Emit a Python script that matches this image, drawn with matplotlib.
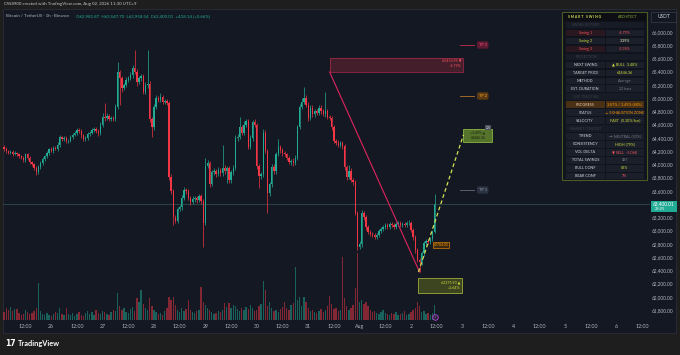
import numpy as np
import matplotlib
matplotlib.use("Agg")
import matplotlib.pyplot as plt
from matplotlib.patches import Rectangle

plt.rcParams['font.family'] = ['Lato', 'DejaVu Sans']

# ---------------- data ----------------
first_hour = 2            # first candle: hours after Jul 25 00:00
first_open = 64270.0
closes = [
    64230, 64200, 64180, 64190, 64160, 64170, 64150, 64120, 64100, 64060,
    64150, 64100, 64030, 64000, 63950, 63880, 63960, 64020, 64080, 64120,
    64170, 64230, 64210, 64250, 64240, 64300, 64410, 64380, 64400, 64350,
    64360, 64420, 64450, 64480, 64520, 64500, 64440, 64380, 64400, 64460,
    64480, 64520, 64540, 64500, 64470, 64600, 64720, 64700, 64730, 64690,
    64700, 64680, 64870, 65390, 65300, 65160, 65200, 65280, 65300, 65350,
    65450, 65400, 65250, 65300, 65330, 65100, 65200, 65220, 64680, 64560,
    64870, 65000, 64980, 65020, 64950, 64960, 64930, 63810, 63600, 63210,
    63150, 63320, 63350, 63500, 63620, 63600, 63500, 63430, 63480, 63500,
    63460, 63520, 63450, 63120, 63980, 64020, 63700, 63880, 63900, 63850,
    63920, 63870, 63950, 63900, 63940, 63760, 63880, 63950, 64400, 64420,
    64560, 64480, 64600, 64650, 64270, 64400, 64640, 64600, 63970, 63820,
    63850, 64480, 64200, 63570, 63700, 63960, 63900, 64150, 64270, 64220,
    64170, 64150, 64100, 64030, 64050, 64020, 64100, 64560, 64870, 64950,
    65010, 64900, 64700, 64850, 64760, 64800, 64780, 64850, 64800, 64760,
    64800, 64720, 64700, 64560, 64360, 64330, 64300, 64320, 64280, 63960,
    63810, 63900, 63770, 63730, 63270, 62760, 62800, 63270, 63200, 63050,
    62980, 62950, 62930, 62910, 62940, 63000, 63030, 63060, 63080, 63050,
    63100, 63080, 63060, 63100, 63110, 63090, 63100, 63080, 63110, 63120,
    63010, 62900, 62710, 62560, 62520, 62660, 62810, 62850, 62830, 62870,
    62981.87, 63400.01]
upper_wick = [
    20, 30, 25, 30, 25, 30, 25, 20, 25, 30,
    30, 25, 20, 25, 20, 30, 30, 25, 30, 25,
    30, 25, 30, 25, 30, 40, 30, 25, 30, 25,
    25, 30, 30, 30, 30, 25, 30, 25, 30, 30,
    25, 30, 30, 25, 30, 40, 60, 210, 40, 30,
    30, 25, 40, 157, 30, 40, 30, 40, 30, 40,
    50, 278, 40, 40, 40, 30, 40, 508, 40, 30,
    40, 50, 30, 60, 30, 30, 30, 30, 40, 30,
    30, 30, 40, 40, 40, 30, 30, 30, 40, 30,
    30, 40, 30, 30, 120, 40, 30, 40, 40, 30,
    40, 30, 340, 40, 40, 30, 40, 40, 40, 40,
    155, 40, 60, 40, 40, 40, 30, 40, 30, 40,
    30, 60, 40, 30, 40, 40, 40, 40, 115, 30,
    30, 40, 30, 30, 30, 40, 40, 40, 40, 60,
    160, 40, 40, 40, 40, 40, 40, 40, 40, 40,
    290, 40, 30, 30, 40, 30, 40, 30, 40, 30,
    30, 90, 40, 30, 30, 30, 40, 40, 30, 30,
    30, 30, 30, 30, 30, 30, 30, 30, 30, 30,
    30, 30, 30, 30, 30, 30, 30, 30, 30, 40,
    30, 30, 30, 30, 30, 40, 40, 30, 30, 30,
    30, 147.69]
lower_wick = [
    30, 25, 30, 25, 30, 25, 30, 30, 25, 30,
    25, 30, 30, 25, 30, 40, 30, 25, 25, 30,
    25, 30, 25, 30, 25, 30, 30, 30, 25, 30,
    30, 25, 30, 25, 30, 30, 40, 30, 25, 30,
    30, 25, 30, 30, 40, 30, 30, 40, 30, 40,
    40, 30, 30, 40, 400, 60, 40, 30, 40, 30,
    40, 40, 60, 40, 40, 40, 40, 40, 40, 145,
    40, 30, 40, 30, 40, 30, 40, 40, 40, 125,
    40, 40, 30, 40, 30, 40, 30, 40, 30, 40,
    40, 30, 40, 367, 40, 40, 40, 30, 40, 40,
    30, 40, 40, 40, 180, 40, 40, 40, 30, 40,
    40, 40, 30, 40, 40, 40, 40, 40, 40, 176,
    40, 40, 30, 303, 40, 40, 40, 40, 30, 40,
    40, 30, 40, 30, 40, 40, 30, 40, 30, 40,
    40, 40, 40, 30, 40, 40, 30, 40, 40, 30,
    40, 40, 30, 40, 40, 40, 30, 40, 40, 40,
    40, 30, 40, 40, 40, 50, 40, 40, 40, 40,
    30, 30, 30, 30, 30, 30, 30, 30, 30, 30,
    30, 30, 30, 30, 30, 30, 30, 30, 30, 30,
    30, 40, 40, 40, 144, 40, 40, 30, 30, 30,
    30, 23.33]
volumes = [
    320, 480, 400, 520, 360, 440, 440, 280, 200, 240,
    400, 320, 240, 280, 360, 480, 1480, 360, 240, 200,
    280, 200, 160, 240, 320, 280, 480, 240, 200, 480,
    240, 200, 280, 160, 240, 320, 200, 160, 280, 360,
    240, 320, 200, 400, 280, 240, 360, 320, 240, 200,
    320, 400, 360, 1080, 560, 400, 480, 320, 280, 440,
    520, 360, 880, 720, 1200, 640, 480, 400, 880, 560,
    400, 320, 240, 280, 200, 360, 480, 920, 800, 920,
    600, 400, 320, 480, 360, 440, 800, 400, 320, 280,
    360, 400, 1320, 720, 600, 480, 400, 320, 240, 280,
    360, 320, 400, 680, 520, 680, 480, 600, 560, 440,
    360, 480, 400, 520, 440, 600, 480, 360, 400, 560,
    640, 1560, 1200, 560, 720, 480, 360, 400, 320, 440,
    520, 720, 480, 400, 600, 680, 2120, 800, 920, 560,
    920, 720, 480, 360, 400, 320, 280, 360, 440, 320,
    400, 560, 960, 640, 440, 480, 360, 400, 2520, 880,
    560, 400, 480, 600, 1280, 2680, 720, 800, 640, 720,
    560, 400, 320, 360, 280, 240, 320, 400, 280, 240,
    200, 280, 240, 320, 200, 240, 280, 360, 200, 240,
    320, 400, 480, 720, 560, 320, 360, 240, 280, 200,
    280, 600]

price_ticks = list(range(61800, 66001, 200))
x_tick_hours = [12, 24, 36, 48, 60, 72, 84, 96, 108, 120, 132, 144, 156, 168,
                180, 192, 204, 216, 228, 240, 252, 264, 276, 288, 300]
x_tick_labels = ["12:00", "26", "12:00", "27", "12:00", "28", "12:00", "29",
                 "12:00", "30", "12:00", "31", "12:00", "Aug", "12:00", "2",
                 "12:00", "3", "12:00", "4", "12:00", "5", "12:00", "6", "12:00"]

credit_text = "CW8900 created with TradingView.com, Aug 02, 2026 11:30 UTC+9"
symbol_title = "Bitcoin / TetherUS · 1h · Binance"
ohlc_text = "O62,981.87  H63,547.70  L62,958.54  C63,400.01  +418.14 (+0.66%)"
last_price = 63400.01
countdown = "29:25"

swing_start_hour = 154
swing_low_hour = 196
projection_hour = 216.5
swing_high_label = "65450.95 ▼"
swing_high_pct = "-4.79%"
swing_high_band = (65396, 65607)
swing_low = 62375.90
swing_low_label = "62375.90 ▲"
swing_low_pct = "+1.64%"
swing_low_band = (62060, 62285)
target_price = 64446.36
target_band = (64340, 64535)
target_lines = ["+3.49% ▲", "64446.36"]
tp_names = ["TP 3", "TP 2", "TP 1"]
tp_levels = [65804, 65034, 63614]
entry_label = "62784.00"
entry_price = 62784

table_labels = ["SMART SWING", "SWING HISTORY", "Swing 1", "Swing 2", "Swing 3",
                "PROJECTION", "NEXT SWING", "TARGET PRICE", "METHOD", "EST. DURATION",
                "LIVE TRACKING", "PROGRESS", "STATUS", "VELOCITY",
                "MARKET CONTEXT", "TREND", "CONSISTENCY", "VOL DELTA",
                "TOTAL SWINGS", "BULL CONF", "BEAR CONF"]
table_values = ["ARCHITECT", "", "-4.79%", "3.39%", "-2.38%",
                "", "▲ BULL  3.48%", "64446.36", "Average", "22 bars",
                "", "3.07% / 3.49% (88%)", "⚠ EXHAUSTION ZONE", "FAST  (0.30%/bar)",
                "", "→ NEUTRAL (50%)", "HIGH (79%)", "▼ SELL  -5.06K",
                "487", "82%", "7%"]
table_kinds = ["header", "section", "row", "row", "row",
               "section", "row", "row", "row", "row",
               "section", "hl", "row", "row",
               "section", "row", "row", "row", "row", "row", "row"]

# ---------------- style ----------------
W, H = 680, 355
UP, DN = "#22ab94", "#f23645"
NAVY = "#141823"
TXT = "#b2b5be"
LIME = "#cddc39"
ORANGE = "#ff9800"
PINK = "#f7525f"
GREY = "#787b86"

lab_col = {"Swing 1": PINK, "Swing 2": LIME, "Swing 3": PINK}
val_col = ["#c6d94a", "", PINK, "#e8eec0", PINK, "", LIME, LIME, GREY, GREY, "",
           ORANGE, ORANGE, LIME, "", GREY, LIME, PINK, GREY, LIME, PINK]

AX_L, AX_R, AX_T, AX_B = 3, 650, 9, 320

fig = plt.figure(figsize=(6.8, 3.55), dpi=100)
fig.patch.set_facecolor("#1e1e1e")


def rect(x0, y0, x1, y1):
    return [x0 / W, 1 - y1 / H, (x1 - x0) / W, (y1 - y0) / H]


bg = fig.add_axes([0, 0, 1, 1], zorder=0)
bg.set_xlim(0, W); bg.set_ylim(H, 0); bg.axis("off")
bg.add_patch(Rectangle((3, 9), 673, 324, facecolor=NAVY, edgecolor="#2a2e39", lw=0.6))

ax = fig.add_axes(rect(AX_L, AX_T, AX_R, AX_B), zorder=3)
vax = fig.add_axes(rect(AX_L, AX_T, AX_R, AX_B), zorder=2, sharex=ax)
for a in (ax, vax):
    a.patch.set_visible(False)
    for s in a.spines.values():
        s.set_visible(False)

hours = np.arange(first_hour, first_hour + len(closes))
c = np.array(closes, dtype=float)
o = np.array([first_open] + closes[:-1], dtype=float)
hi = np.maximum(o, c) + np.array(upper_wick)
lo = np.minimum(o, c) - np.array(lower_wick)
cols = np.where(c >= o, UP, DN)

ax.vlines(hours, lo, hi, colors=cols, lw=0.5)
ax.bar(hours, np.maximum(np.abs(c - o), 10), bottom=np.minimum(o, c),
       width=0.62, color=cols, lw=0)
vax.bar(hours, volumes, width=0.62, color=cols, alpha=0.5, lw=0)

ax.set_xlim(1.5, 303.6)
ax.set_ylim(61651, 66347)
vax.set_ylim(0, 311 * 40)
vax.axis("off")

ax.yaxis.tick_right()
ax.set_yticks(price_ticks)
# the 63,400 tick label sits under the last-price tag
ax.set_yticklabels(["" if v == 63400 else f"{v:,.2f}" for v in price_ticks])
ax.tick_params(axis="y", length=0, pad=1.6, labelsize=3.45, labelcolor=TXT)
ax.set_xticks(x_tick_hours)
ax.set_xticklabels(x_tick_labels)
ax.tick_params(axis="x", length=0, pad=2.8, labelsize=3.8, labelcolor=TXT)

# current price line
ax.axhline(last_price, color="#3b6e6a", lw=0.45, alpha=0.8, zorder=1)

# swing high band and swing line
band_w = 230 - swing_start_hour - 13.5
ax.add_patch(Rectangle((swing_start_hour, swing_high_band[0]), band_w,
                       swing_high_band[1] - swing_high_band[0],
                       facecolor="#f23645", alpha=0.22, edgecolor="none", zorder=4))
ax.add_patch(Rectangle((swing_start_hour, swing_high_band[0]), band_w,
                       swing_high_band[1] - swing_high_band[0],
                       facecolor="none", edgecolor="#b0294a", lw=0.5, zorder=4))
ax.text(215.6, swing_high_band[1] - 45, swing_high_label, ha="right", va="center",
        fontsize=2.6, color=PINK, zorder=6)
ax.text(215.6, swing_high_band[1] - 120, swing_high_pct, ha="right", va="center",
        fontsize=2.6, color=PINK, zorder=6)
ax.plot([swing_start_hour, swing_low_hour], [swing_high_band[0], swing_low],
        color="#e0245e", lw=0.8, zorder=5)

# swing low box
ax.add_patch(Rectangle((swing_low_hour - 0.5, swing_low_band[0]), 20.5,
                       swing_low_band[1] - swing_low_band[0],
                       facecolor="#3d4420", edgecolor="#b5c43a", lw=0.5, zorder=4))
ax.text(215.2, swing_low_band[1] - 70, swing_low_label, ha="right", va="center",
        fontsize=2.6, color=LIME, zorder=6)
ax.text(215.2, swing_low_band[1] - 150, swing_low_pct, ha="right", va="center",
        fontsize=2.6, color=LIME, zorder=6)

# projection dashed line
ax.plot([swing_low_hour - 0.5, projection_hour], [swing_low, target_price],
        color="#d4e157", lw=0.9, dashes=(3, 2.2), zorder=5)

# target box
ax.add_patch(Rectangle((projection_hour, target_band[0]), 13.5,
                       target_band[1] - target_band[0],
                       facecolor="#56732c", edgecolor="#9ccc4a", lw=0.5, zorder=4))
ax.text(223.2, target_band[1] - 55, target_lines[0], ha="center", va="center",
        fontsize=2.5, color="#18240a", zorder=6)
ax.text(223.2, target_band[1] - 130, target_lines[1], ha="center", va="center",
        fontsize=2.5, color="#18240a", zorder=6)
ax.text(228, target_band[1] + 20, "22b", ha="center", va="center", fontsize=2.2,
        color="#c0c4cc", zorder=7,
        bbox=dict(boxstyle="square,pad=0.25", fc="#4a4f5c", ec="none"))

# TP labels
tp_face = ["#5c1a33", "#5a3a12", "#2a3140"]
tp_text = ["#ff4f7b", "#ffa726", "#9ba3b4"]
tp_line = ["#b0294a", "#a0682a", "#5a6272"]
for name, lvl, fc, tc, lc in zip(tp_names, tp_levels, tp_face, tp_text, tp_line):
    ax.plot([214.7, 221.4], [lvl, lvl], color=lc, lw=0.7, zorder=5)
    ax.text(225.5, lvl, name, ha="center", va="center", fontsize=2.8, color=tc, zorder=6,
            bbox=dict(boxstyle="round,pad=0.45,rounding_size=0.5", fc=fc, ec="none"))

# entry label (orange)
ax.text(202.6, entry_price, entry_label, ha="left", va="center", fontsize=2.4,
        color=ORANGE, zorder=6,
        bbox=dict(boxstyle="square,pad=0.3", fc="#3a2810", ec=ORANGE, lw=0.4))

# event marker
ax.plot([hours[-1]], [61700], marker="o", ms=4, mfc="#2a1f3a", mec="#b04cd8", mew=0.6,
        zorder=6)
ax.text(hours[-1], 61700, "+", ha="center", va="center", fontsize=2.6,
        color="#d080f0", zorder=7)

# ---------------- overlay (pixels) ----------------
ov = fig.add_axes([0, 0, 1, 1], zorder=10)
ov.set_xlim(0, W); ov.set_ylim(H, 0); ov.axis("off")


def py(p):
    y0, y1 = ax.get_ylim()
    return AX_T + (y1 - p) / (y1 - y0) * (AX_B - AX_T)


ov.text(4, 4.5, credit_text, fontsize=3.2, color="#c8c8c8", va="center", ha="left")
ov.text(6, 16, symbol_title, fontsize=3.2, color=TXT, va="center", ha="left")
ov.text(76, 16, ohlc_text, fontsize=3.2, color=UP, va="center", ha="left")

# price label
yp = py(last_price)
ov.add_patch(Rectangle((651, yp - 3.5), 26, 11, facecolor=UP, edgecolor="none"))
ov.text(664, yp, f"{last_price:,.2f}", fontsize=3.4, color="white", ha="center", va="center")
ov.text(655, yp + 5, countdown, fontsize=2.9, color="white", ha="left", va="center")

# USDT box
ov.add_patch(Rectangle((651, 11.5), 25, 10.5, facecolor="#131722", edgecolor="#3a3e4a", lw=0.5))
ov.text(663.5, 16.8, "USDT", fontsize=3.5, color="#d1d4dc", ha="center", va="center")

# table
T_L, T_R, T_T, T_B = 562, 647, 12, 180
ov.add_patch(Rectangle((T_L, T_T), T_R - T_L, T_B - T_T, facecolor="#10131b",
                       edgecolor="#4d5a26", lw=0.8))
row0, step = 17.2, 7.95
for k, (lab, val, kind) in enumerate(zip(table_labels, table_values, table_kinds)):
    yc = row0 + k * step
    if kind == "header":
        ov.add_patch(Rectangle((T_L + 1, yc - 4), T_R - T_L - 2, 8, facecolor="#0c0e13",
                               edgecolor="none"))
        ov.text(585, yc, " ".join(lab), fontsize=2.5, color="#d4e157", ha="center",
                va="center", fontweight="bold")
        ov.text(628, yc, val, fontsize=2.6, color="#8aa83a", ha="center", va="center")
        continue
    if kind == "section":
        ov.add_patch(Rectangle((566, yc - 3.3), 78, 6.6, facecolor="#171b25",
                               edgecolor="none"))
        ov.text(586, yc, lab, fontsize=2.5, color="#3a3f4c", ha="center", va="center")
        continue
    lfc, rfc = "#1b1f2a", "#1b1f2a"
    lc = lab_col.get(lab, "#d1d4dc")
    if kind == "hl":
        lfc = rfc = "#4a3115"
        lc = "#f0d2b0"
    if lab in ("Swing 1", "Swing 3"):
        lfc = "#2a1820"
    ov.add_patch(Rectangle((566, yc - 3.3), 38.5, 6.6, facecolor=lfc, edgecolor="none"))
    ov.add_patch(Rectangle((605.5, yc - 3.3), 38.5, 6.6, facecolor=rfc, edgecolor="none"))
    ov.text(585.2, yc, lab, fontsize=2.7, color=lc, ha="center", va="center")
    ov.text(624.8, yc, val, fontsize=2.7, color=val_col[k], ha="center", va="center")

# bottom logo
ov.text(5, 343.5, "17", fontsize=5.5, color="white", ha="left", va="center",
        fontweight="heavy", family=["DejaVu Sans"])
ov.text(18, 343.5, "TradingView", fontsize=5.3, color="white", ha="left", va="center",
        fontweight="bold")

fig.savefig("out.png", dpi=100, facecolor=fig.get_facecolor())
